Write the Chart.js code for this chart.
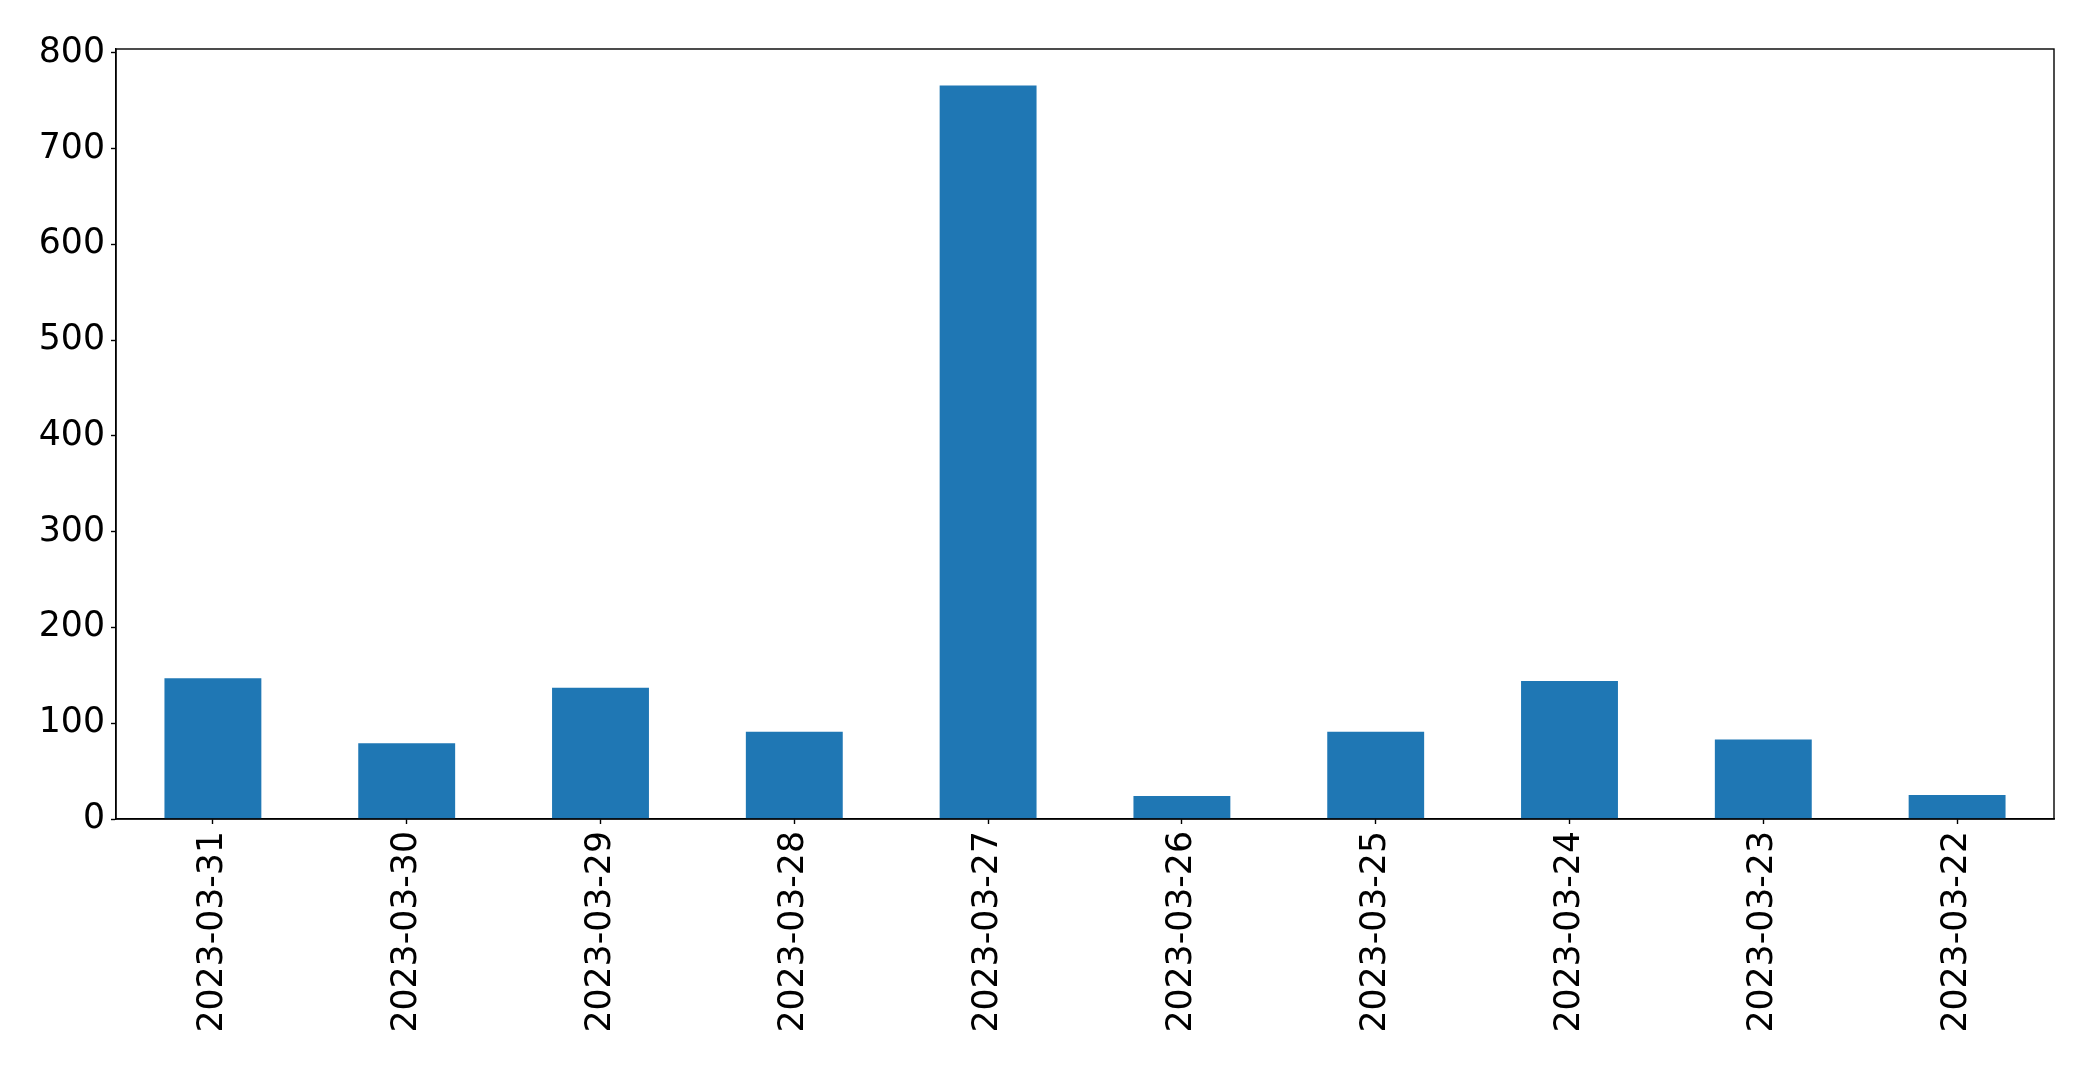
<!DOCTYPE html>
<html>
<head>
<meta charset="utf-8">
<script src="https://cdn.jsdelivr.net/npm/chart.js@4/dist/chart.umd.min.js"></script>
<style>
  html, body { margin: 0; padding: 0; background: #fff; }
  #wrap { width: 2093px; height: 1071px; position: relative; }
</style>
</head>
<body>
<div id="wrap"><canvas id="c" width="2093" height="1071"></canvas></div>
<script>
const categories = ["2023-03-31", "2023-03-30", "2023-03-29", "2023-03-28", "2023-03-27",
                    "2023-03-26", "2023-03-25", "2023-03-24", "2023-03-23", "2023-03-22"];
const values = [147, 79, 137, 91, 766, 24, 91, 144, 83, 25];
const yTicks = [0, 100, 200, 300, 400, 500, 600, 700, 800];
const yMax = 804;

const frame = {
  id: 'frame',
  afterDraw(chart) {
    const { ctx, chartArea: a } = chart;
    ctx.save();
    ctx.strokeStyle = '#000';
    ctx.lineWidth = 1.4;
    ctx.strokeRect(a.left, a.top, a.right - a.left, a.bottom - a.top);
    ctx.restore();
  }
};

Chart.defaults.font.family = "'DejaVu Sans', sans-serif";
Chart.defaults.color = '#000';

new Chart(document.getElementById('c'), {
  type: 'bar',
  data: {
    labels: categories,
    datasets: [{
      data: values,
      backgroundColor: '#1f77b4',
      borderWidth: 0,
      categoryPercentage: 1.0,
      barPercentage: 0.5
    }]
  },
  options: {
    responsive: false,
    animation: false,
    layout: { padding: { top: 49, right: 39, left: 0, bottom: 0 } },
    plugins: { legend: { display: false }, tooltip: { enabled: false } },
    scales: {
      x: {
        offset: true,
        grid: { display: true, offset: false, drawOnChartArea: false, tickLength: 5, tickColor: '#000', tickWidth: 1.4 },
        border: { display: true, color: '#000', width: 1.4 },
        ticks: { font: { size: 34.7 }, minRotation: 90, maxRotation: 90, padding: 7, autoSkip: false },
        afterFit(s) { s.height = 252; }
      },
      y: {
        min: 0,
        max: yMax,
        grid: { display: true, drawOnChartArea: false, tickLength: 5, tickColor: '#000', tickWidth: 1.4 },
        border: { display: true, color: '#000', width: 1.4 },
        ticks: { font: { size: 34.7 }, padding: 6, stepSize: 100 },
        afterBuildTicks(s) { s.ticks = yTicks.map(v => ({ value: v })); },
        afterFit(s) { s.width = 116; }
      }
    }
  },
  plugins: [frame]
});
</script>
</body>
</html>
